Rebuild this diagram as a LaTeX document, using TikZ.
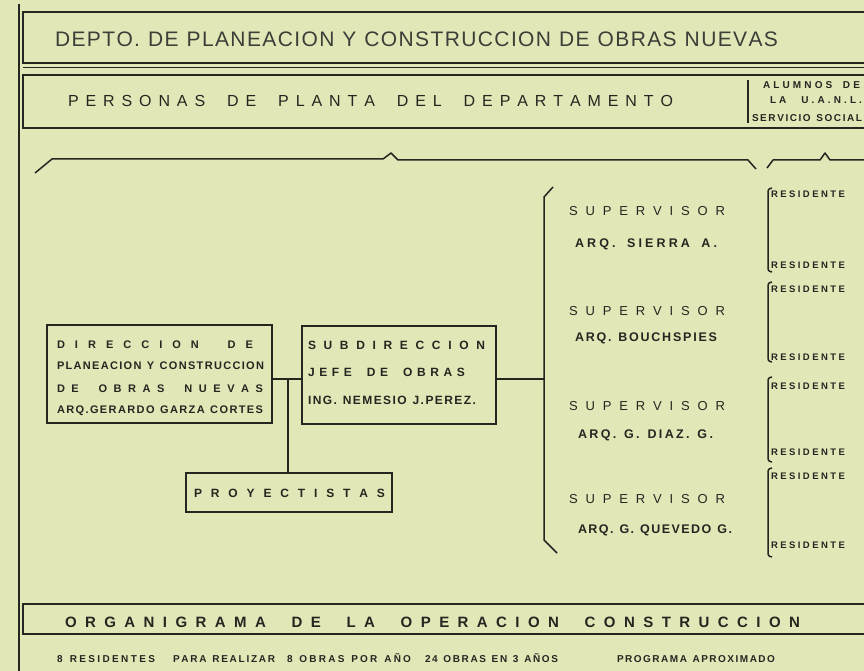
\documentclass[tikz,border=0pt]{standalone}
\usepackage{fontspec}
\setmainfont{Liberation Sans}
\definecolor{bgc}{RGB}{226,231,184}
\definecolor{inkc}{RGB}{38,38,32}
\definecolor{titlec}{RGB}{60,62,55}
\ExplSyntaxOn
\NewDocumentCommand\spread{O{1.6}mm}
  {
    \makebox[#2][s]
      {
        \str_map_inline:nn {#3}
          {
            \str_if_eq:nnTF {##1} {~}
              { \hskip 0.25em plus #1 fil \relax }
              { ##1 \hskip 0pt plus 1fil \relax }
          }
        \unskip
      }
  }
\ExplSyntaxOff
\begin{document}
\begin{tikzpicture}[x=1pt,y=-1pt,
  ink/.style={draw=inkc,line width=1.5pt},
  thin/.style={draw=inkc,line width=0.8pt},
  lbl/.style={anchor=base west,inner sep=0pt,outer sep=0pt,text=inkc},
  boxn/.style={draw=inkc,line width=1.5pt,inner sep=0pt},
  f21/.style={font=\fontsize{21}{24}\selectfont},
  f16/.style={font=\fontsize{16}{19}\selectfont},
  f15b/.style={font=\fontsize{15}{18}\selectfont\bfseries},
  fsup/.style={font=\fontsize{13}{15}\selectfont},
  fname/.style={font=\fontsize{12.5}{15}\selectfont\bfseries},
  f12b/.style={font=\fontsize{12}{14}\selectfont\bfseries},
  f11b/.style={font=\fontsize{11}{13}\selectfont\bfseries},
  f10b/.style={font=\fontsize{10}{12}\selectfont\bfseries},
  f9b/.style={font=\fontsize{10}{11}\selectfont\bfseries},
  fres/.style={font=\fontsize{9.5}{11}\selectfont\bfseries},
]
\useasboundingbox (0,0) rectangle (864,671);
\fill[bgc] (0,0) rectangle (864,671);
\clip (0,0) rectangle (864,671);

% outer left line
\draw[ink] (19,4) -- (19,671);

% header boxes
\draw[ink] (23,12) rectangle (880,63);
\draw[thin] (23,67) -- (880,67);
\draw[ink] (23,75) rectangle (880,128);
\node[lbl,f21,text=titlec] (title) at (55,47) {\spread[1]{723pt}{DEPTO. DE PLANEACION Y CONSTRUCCION DE OBRAS NUEVAS}};
\node[lbl,f16] (personas) at (68,107) {\spread{605pt}{PERSONAS DE PLANTA DEL DEPARTAMENTO}};
\coordinate (sepT) at (748,80);
\coordinate (sepB) at (748,123);
\draw[ink] (sepT) -- (sepB);
\node[lbl,f10b] (alum1) at (763,89) {\spread{97pt}{ALUMNOS DE}};
\node[lbl,f10b] (alum2) at (770,104) {\spread[3]{92pt}{LA U.A.N.L.}};
\node[lbl,f10b] (alum3) at (752,122) {\spread[1]{110pt}{SERVICIO SOCIAL}};

% braces
\draw[ink,line join=round] (35,173) -- (52,159) -- (383,159) -- (391,153) -- (398,160) -- (748,160) -- (756,169);
\draw[ink,line join=round] (767,168) -- (773,160) -- (820,160) -- (825,153) -- (830,160) -- (870,160);

% director box
\node[boxn,minimum width=225pt,minimum height=98pt] (dir) at (159.5,374) {};
\node[lbl,f11b] (dir1) at (57,348) {\spread{196pt}{DIRECCION DE}};
\node[lbl,f11b] (dir2) at (57,369) {\spread[1]{207pt}{PLANEACION Y CONSTRUCCION}};
\node[lbl,f11b] (dir3) at (57,392) {\spread{206pt}{DE OBRAS NUEVAS}};
\node[lbl,f11b] (dir4) at (57,413) {\spread[1]{206pt}{ARQ.GERARDO GARZA CORTES}};

% subdireccion box
\node[boxn,minimum width=194pt,minimum height=98pt] (sub) at (399,375) {};
\node[lbl,f12b] (sub1) at (308,349.5) {\spread{177pt}{SUBDIRECCION}};
\node[lbl,f12b] (sub2) at (308,376.5) {\spread{157pt}{JEFE DE OBRAS}};
\node[lbl,f12b] (sub3) at (308,404.5) {\spread[1]{168pt}{ING. NEMESIO J.PEREZ.}};

% proyectistas
\node[boxn,minimum width=206pt,minimum height=39pt] (proy) at (289,492.5) {};
\node[lbl,f12b] (proyt) at (194,497.5) {\spread{191pt}{PROYECTISTAS}};

% connectors
\coordinate (jn) at (288,379);
\draw[ink] (dir.east |- jn) -- (sub.west |- jn);
\draw[ink] (jn) -- (jn |- proy.north);
\coordinate (bk) at (544,379);
\draw[ink] (sub.east |- bk) -- (bk);

% supervisor bracket
\draw[ink,line join=round] (553,187) -- (544,197) -- (544,540) -- (557,553);

% supervisors
\node[lbl,fsup] (s1) at (569,215) {\spread{156pt}{SUPERVISOR}};
\node[lbl,fname] (n1) at (575,247) {\spread{142pt}{ARQ. SIERRA A.}};
\node[lbl,fsup] (s2) at (569,315) {\spread{156pt}{SUPERVISOR}};
\node[lbl,fname] (n2) at (575,341) {\spread[1]{142pt}{ARQ. BOUCHSPIES}};
\node[lbl,fsup] (s3) at (569,410) {\spread{156pt}{SUPERVISOR}};
\node[lbl,fname] (n3) at (578,438) {\spread[1]{135pt}{ARQ. G. DIAZ. G.}};
\node[lbl,fsup] (s4) at (569,503) {\spread{156pt}{SUPERVISOR}};
\node[lbl,fname] (n4) at (578,533) {\spread[1]{154pt}{ARQ. G. QUEVEDO G.}};

% resident brackets
\foreach \t/\b [count=\i] in {188/272, 282/362, 377/462, 468/557}{
  \draw[ink] (772,\t) .. controls (768,\t+1) .. (768,\t+7) -- (768,\b-7) .. controls (768,\b-1) .. (772,\b);
}
\foreach \y [count=\i] in {197.5,268.5,292.5,360.5,389.5,455.5,479.5,548.5}{
  \node[lbl,fres] (res\i) at (771,\y) {\spread{74pt}{RESIDENTE}};
}

% bottom box
\draw[ink] (23,604) rectangle (880,634);
\node[lbl,f15b] (organ) at (65,627.5) {\spread{735pt}{ORGANIGRAMA DE LA OPERACION CONSTRUCCION}};

% footer
\node[lbl,f9b] (ft1) at (57,662.5) {\spread[1]{98pt}{8 RESIDENTES}};
\node[lbl,f9b] (ft2) at (173,662.5) {\spread[1]{102pt}{PARA REALIZAR}};
\node[lbl,f9b] (ft3) at (287,662.5) {\spread[1]{124pt}{8 OBRAS POR AÑO}};
\node[lbl,f9b] (ft4) at (425,662.5) {\spread[1]{133pt}{24 OBRAS EN 3 AÑOS}};
\node[lbl,f9b] (ft5) at (617,662.5) {\spread[1]{158pt}{PROGRAMA APROXIMADO}};
\end{tikzpicture}
\end{document}
